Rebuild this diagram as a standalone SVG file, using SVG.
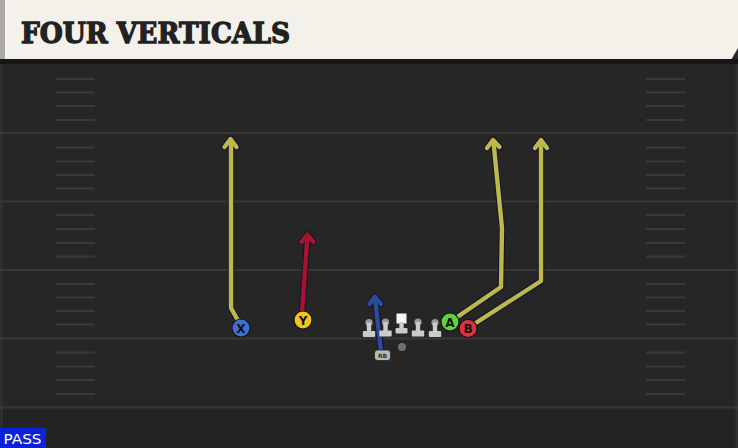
<svg xmlns="http://www.w3.org/2000/svg" width="738" height="448" viewBox="0 0 738 448">
<style>
.yl{stroke:#3a3a3a;stroke-width:2;opacity:.9}
.hash{stroke:#3a3a3a;stroke-width:2}
.rtO{fill:none;stroke:#14142a;stroke-width:6.5;stroke-linejoin:round;stroke-linecap:round}
.rt{fill:none;stroke-width:4.4;stroke-linejoin:round;stroke-linecap:round}
.yel{stroke:#bdb84a}
.red{stroke:#a8132f}
.blu{stroke:#2b4c9c}
.pl{stroke:#151515;stroke-width:1.2}
.lt{font-family:"DejaVu Sans","Liberation Sans",sans-serif;font-weight:bold;font-size:12px;fill:#111;text-anchor:middle}
.ol{fill:#cbcbcb}
</style>
<defs>
<g id="hashes">
<line class="hash" x1="56" x2="95" y1="0" y2="0"/>
<line class="hash" x1="646" x2="685" y1="0" y2="0"/>
</g>
<g id="lineman">
<circle cx="0" cy="0" r="3.6" fill="#9a9a9a"/>
<rect x="-2.2" y="0" width="4.4" height="10" class="ol"/>
<rect x="-6.2" y="8.5" width="12.4" height="6" rx="1" class="ol"/>
</g>
</defs>
<rect x="0" y="0" width="738" height="448" fill="#262626"/>
<rect x="0" y="408" width="738" height="40" fill="#232323"/>
<line x1="1.5" y1="64" x2="1.5" y2="448" stroke="#333" stroke-width="2"/>
<line x1="736.5" y1="64" x2="736.5" y2="448" stroke="#333" stroke-width="2"/>
<g id="field">
<line class="yl" x1="0" x2="738" y1="133" y2="133"/>
<line class="yl" x1="0" x2="738" y1="201.5" y2="201.5"/>
<line class="yl" x1="0" x2="738" y1="270" y2="270"/>
<line class="yl" x1="0" x2="738" y1="338.5" y2="338.5"/>
<line class="yl" x1="0" x2="738" y1="407.5" y2="407.5"/>
<use href="#hashes" y="79"/><use href="#hashes" y="92.5"/><use href="#hashes" y="106"/><use href="#hashes" y="120"/>
<use href="#hashes" y="147.5"/><use href="#hashes" y="161.5"/><use href="#hashes" y="175"/><use href="#hashes" y="188.5"/>
<use href="#hashes" y="215"/><use href="#hashes" y="229"/><use href="#hashes" y="243"/><use href="#hashes" y="256.5"/>
<use href="#hashes" y="284"/><use href="#hashes" y="297.5"/><use href="#hashes" y="311"/><use href="#hashes" y="324.5"/>
<use href="#hashes" y="352.5"/><use href="#hashes" y="366.5"/><use href="#hashes" y="380"/><use href="#hashes" y="394"/>
</g>
<g id="header">
<rect x="0" y="0" width="738" height="60" fill="#f4f1ea"/>
<rect x="0" y="0" width="5" height="60" fill="#a9a9a6"/>
<polygon points="738,48 738,60 731,60" fill="#2a2a2a"/>
<rect x="0" y="59" width="738" height="5" fill="#161616"/>
<text x="21" y="43" font-family="'DejaVu Serif','Liberation Serif',serif" font-weight="bold" font-size="28" fill="#222" stroke="#222" stroke-width="1.3" textLength="269" lengthAdjust="spacingAndGlyphs">FOUR VERTICALS</text>
</g>
<g id="connectors">
<polyline class="rtO" points="241,326 231,308 231,140"/>
<polyline class="rtO" points="224.5,147 230.5,139 236.5,147"/>
<polyline class="rt yel" points="241,326 231,308 231,140"/>
<polyline class="rt yel" points="224.5,147 230.5,139 236.5,147"/>
<polyline class="rtO" points="302,312 307.5,236"/>
<polyline class="rtO" points="301.5,242 307.5,234.5 313.5,242"/>
<polyline class="rt red" points="302,312 307.5,236"/>
<polyline class="rt red" points="301.5,242 307.5,234.5 313.5,242"/>
<polyline class="rtO" points="381,352 375,298"/>
<polyline class="rtO" points="369.5,304 375,296.5 381,304"/>
<polyline class="rt blu" points="381,352 375,298"/>
<polyline class="rt blu" points="369.5,304 375,296.5 381,304"/>
<polyline class="rtO" points="450,322 501,287 502,228 493.5,142"/>
<polyline class="rtO" points="487,148 493,140 499.5,147"/>
<polyline class="rt yel" points="450,322 501,287 502,228 493.5,142"/>
<polyline class="rt yel" points="487,148 493,140 499.5,147"/>
<polyline class="rtO" points="468,328 541,281 541,142"/>
<polyline class="rtO" points="535,148 541,140 547,148"/>
<polyline class="rt yel" points="468,328 541,281 541,142"/>
<polyline class="rt yel" points="535,148 541,140 547,148"/>
</g>
<g id="line">
<use href="#lineman" x="369" y="322.5"/>
<use href="#lineman" x="385.5" y="322"/>
<use href="#lineman" x="418" y="322"/>
<use href="#lineman" x="435" y="322.5"/>
</g>
<g id="center">
<rect x="396.5" y="313.5" width="10" height="10" fill="#f6f6f6"/>
<rect x="399.3" y="322" width="4.4" height="8" class="ol"/>
<rect x="395.5" y="328" width="12" height="5.5" rx="1" class="ol"/>
</g>
<g id="ball"><circle cx="402" cy="347" r="4" fill="#707070"/></g>
<g id="rb">
<rect x="374.5" y="350" width="16" height="10.5" rx="3" fill="#b9b9b9" stroke="#222" stroke-width="0.8"/>
<text x="382.5" y="358" font-family="'DejaVu Sans',sans-serif" font-size="6" font-weight="bold" fill="#333" text-anchor="middle">RB</text>
</g>
<g id="X"><circle cx="241" cy="328" r="9" fill="#3d6fd6" class="pl"/><text class="lt" x="241" y="332.5">X</text></g>
<g id="Y"><circle cx="303" cy="320" r="9" fill="#f2c41c" class="pl"/><text class="lt" x="303" y="324.5">Y</text></g>
<g id="A"><circle cx="450" cy="322" r="9" fill="#5fd33a" class="pl"/><text class="lt" x="450" y="326.5">A</text></g>
<g id="B"><circle cx="468" cy="328.5" r="9" fill="#e2303c" class="pl"/><text class="lt" x="468" y="333">B</text></g>
<g id="pass">
<rect x="0" y="428" width="46" height="20" fill="#0c22d8"/>
<text x="3.5" y="444" font-family="'DejaVu Sans','Liberation Sans',sans-serif" font-size="14" fill="#fff" textLength="38" lengthAdjust="spacingAndGlyphs">PASS</text>
</g>
</svg>
